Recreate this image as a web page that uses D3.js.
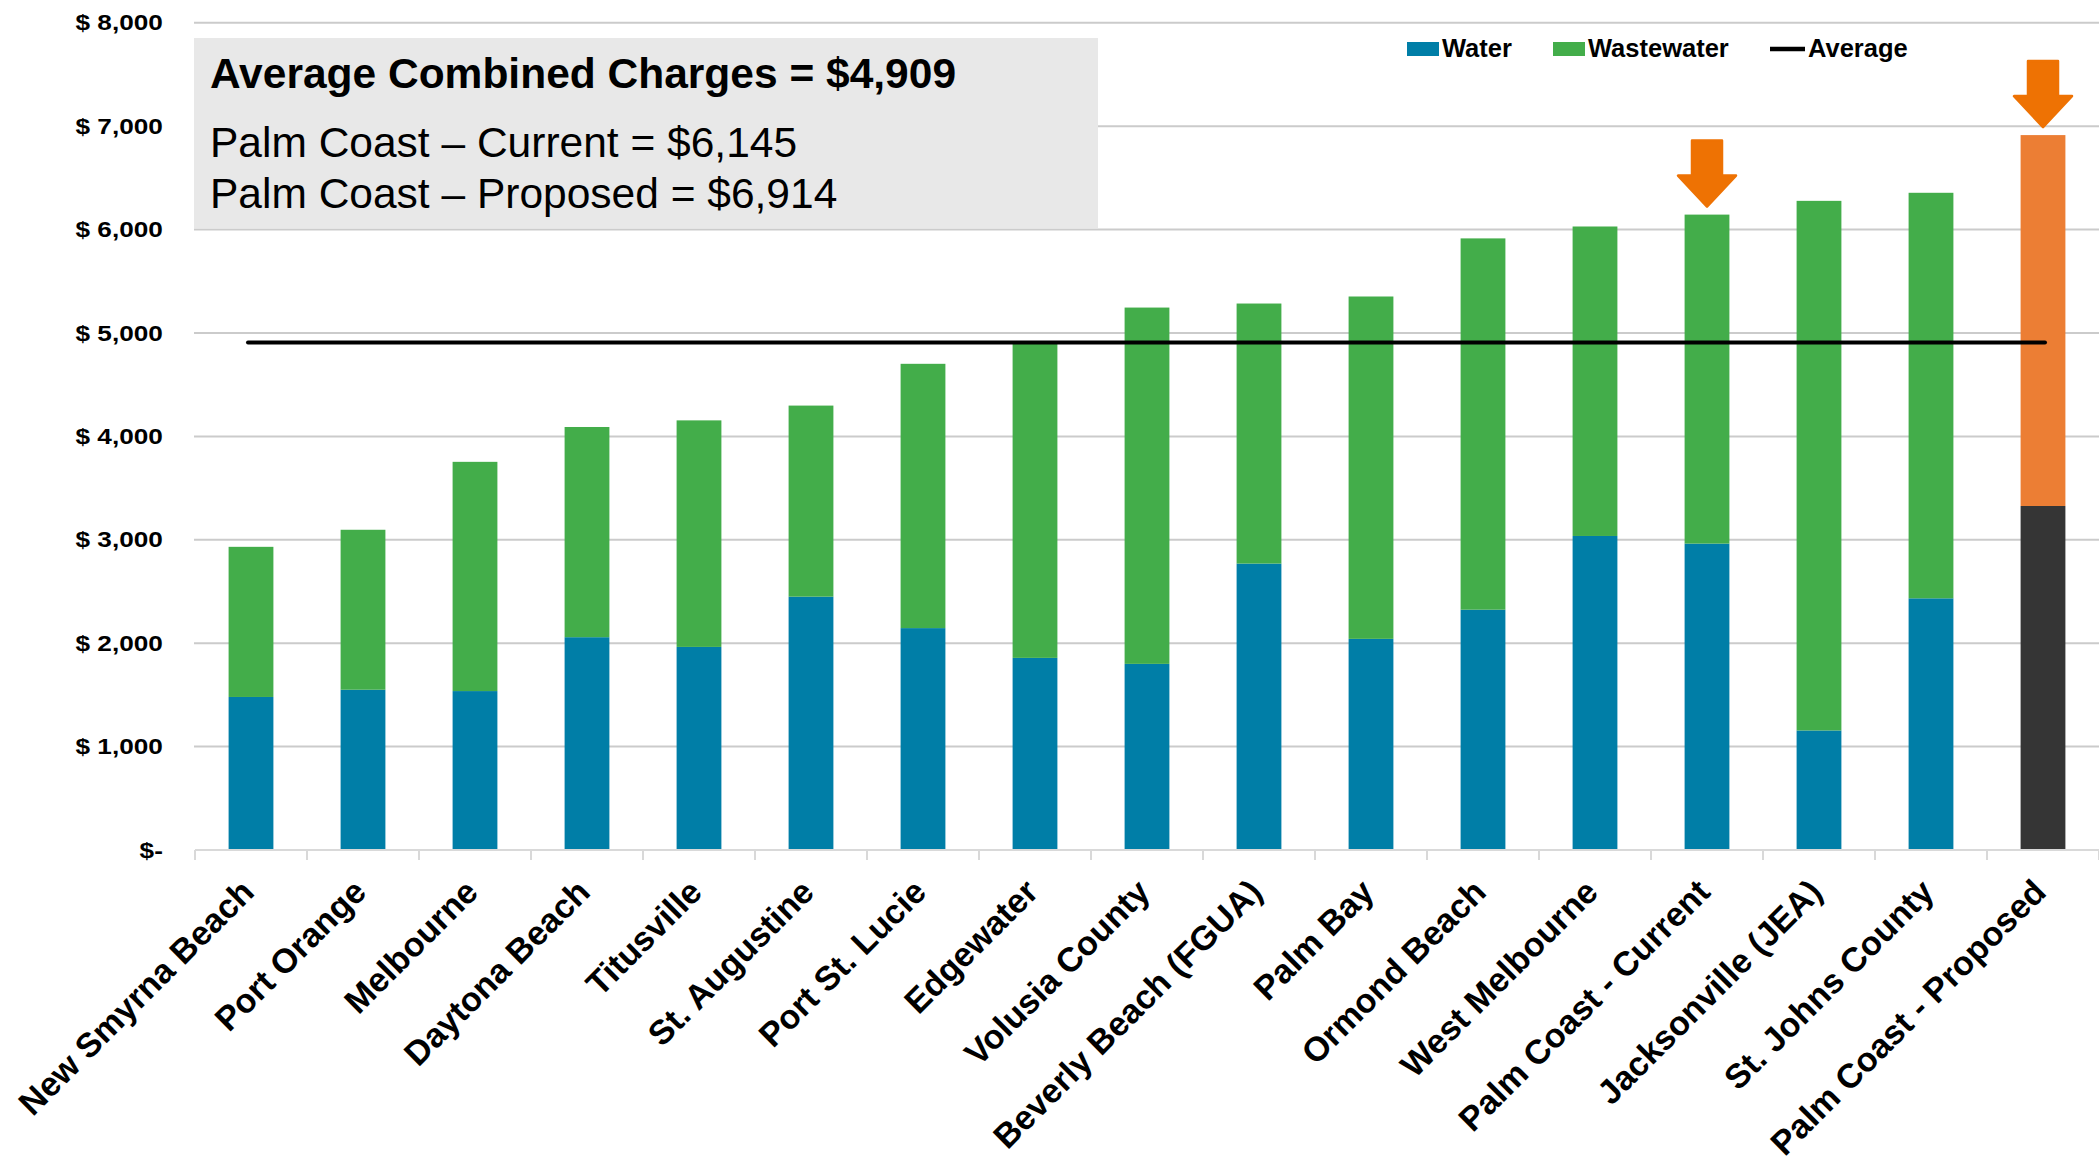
<!DOCTYPE html>
<html>
<head>
<meta charset="utf-8">
<script src="https://cdn.jsdelivr.net/npm/d3@7"></script>
<style>
  html, body { margin: 0; padding: 0; background: #ffffff; }
  svg { display: block; }
  text { font-family: "Liberation Sans", Arial, Helvetica, sans-serif; fill: #000; }
</style>
</head>
<body>
<svg id="chart" width="2099" height="1159"></svg>
<script>
// Combined annual water + wastewater charges by utility
const categories = [
  "New Smyrna Beach", "Port Orange", "Melbourne", "Daytona Beach", "Titusville",
  "St. Augustine", "Port St. Lucie", "Edgewater", "Volusia County", "Beverly Beach (FGUA)",
  "Palm Bay", "Ormond Beach", "West Melbourne", "Palm Coast - Current",
  "Jacksonville (JEA)", "St. Johns County", "Palm Coast - Proposed"
];
const water      = [1480, 1550, 1537, 2058, 1964, 2450, 2146, 1858, 1800, 2770, 2042, 2324, 3037, 2963, 1156, 2434, 3327];
const wastewater = [1452, 1547, 2217, 2033, 2191, 1848, 2556, 3047, 3446, 2515, 3311, 3591, 2993, 3182, 5122, 3922, 3587];
const averageCharge = 4909;
const highlighted = ["Palm Coast - Current", "Palm Coast - Proposed"];
const proposed = "Palm Coast - Proposed";

const yTicks = [0, 1000, 2000, 3000, 4000, 5000, 6000, 7000, 8000];
const yTickLabels = ["$-", "$ 1,000", "$ 2,000", "$ 3,000", "$ 4,000", "$ 5,000", "$ 6,000", "$ 7,000", "$ 8,000"];

const seriesNames = ["Water", "Wastewater", "Average"];
const infoLines = [
  "Average Combined Charges = $4,909",
  "Palm Coast \u2013 Current = $6,145",
  "Palm Coast \u2013 Proposed = $6,914"
];

const colors = {
  water: "#007ea7",
  wastewater: "#43ad4a",
  proposedWater: "#353535",
  proposedWaste: "#ec7e34",
  arrow: "#ee7203",
  grid: "#cbcbcb",
  axis: "#d9d9d9",
  box: "#e8e8e8"
};

const svg = d3.select("#chart");
const W = 2099, H = 1159;
const plotLeft = 195, plotRight = 2099, plotBottom = 850, plotTop = 22.8;

svg.append("rect").attr("width", W).attr("height", H).attr("fill", "#fff");

const x = d3.scaleBand().domain(categories).range([plotLeft, plotRight]).padding(0);
const y = d3.scaleLinear().domain([0, 8000]).range([plotBottom, plotTop]);
const barW = x.bandwidth() * 0.4;

// horizontal gridlines
svg.append("g").selectAll("line")
  .data(yTicks.filter(d => d > 0))
  .join("line")
  .attr("x1", plotLeft - 1).attr("x2", plotRight)
  .attr("y1", d => y(d)).attr("y2", d => y(d))
  .attr("stroke", colors.grid).attr("stroke-width", 2);

// y axis labels
const yAxis = d3.axisLeft(y)
  .tickValues(yTicks)
  .tickSize(0)
  .tickPadding(27)
  .tickFormat((d, i) => yTickLabels[i]);
const yG = svg.append("g").attr("transform", `translate(${plotLeft},0)`).call(yAxis);
yG.select(".domain").remove();
yG.selectAll("text")
  .attr("transform", "scale(1.19,1)")
  .style("font-family", "'Liberation Sans', Arial, sans-serif")
  .style("font-weight", "bold")
  .style("font-size", "22px")
  .attr("fill", "#111");

// stacked bars
const stackData = categories.map((c, i) => ({ cat: c, water: water[i], wastewater: wastewater[i] }));
const stacked = d3.stack().keys(["water", "wastewater"])(stackData);

svg.append("g").selectAll("g")
  .data(stacked)
  .join("g")
  .selectAll("rect")
  .data(s => s.map(d => ({ key: s.key, d })))
  .join("rect")
  .attr("x", p => x(p.d.data.cat) + (x.bandwidth() - barW) / 2)
  .attr("width", barW)
  .attr("y", p => y(p.d[1]))
  .attr("height", p => y(p.d[0]) - y(p.d[1]))
  .attr("fill", p => {
    const isProp = p.d.data.cat === proposed;
    if (p.key === "water") return isProp ? colors.proposedWater : colors.water;
    return isProp ? colors.proposedWaste : colors.wastewater;
  });

// category axis
const xAxis = d3.axisBottom(x).tickSize(0).tickPadding(0);
const xG = svg.append("g").attr("transform", `translate(0,${plotBottom})`).call(xAxis);
xG.select(".domain").remove();
xG.selectAll("text")
  .attr("x", 0).attr("y", 0).attr("dy", 0)
  .attr("text-anchor", "end")
  .attr("transform", "translate(5,44) rotate(-45)")
  .style("font-family", "'Liberation Sans', Arial, sans-serif")
  .style("font-weight", "bold")
  .style("font-size", "34px")
  .attr("fill", "#000");

svg.append("line")
  .attr("x1", plotLeft).attr("x2", plotRight)
  .attr("y1", plotBottom).attr("y2", plotBottom)
  .attr("stroke", colors.axis).attr("stroke-width", 2);
svg.append("g").selectAll("line")
  .data(d3.range(categories.length + 1))
  .join("line")
  .attr("x1", i => plotLeft + i * x.step()).attr("x2", i => plotLeft + i * x.step())
  .attr("y1", plotBottom).attr("y2", plotBottom + 10)
  .attr("stroke", colors.axis).attr("stroke-width", 2);

// average line
const firstC = x(categories[0]) + x.bandwidth() / 2;
const lastC = x(categories[categories.length - 1]) + x.bandwidth() / 2;
svg.append("line")
  .attr("x1", firstC - 3).attr("x2", lastC + 2)
  .attr("y1", y(averageCharge)).attr("y2", y(averageCharge))
  .attr("stroke", "#000").attr("stroke-width", 4).attr("stroke-linecap", "round");

// arrows pointing at the Palm Coast bars
const arrowShaftHalf = 15, arrowHeadHalf = 29, arrowHeadH = 31, arrowShaftH = 35;
svg.append("g").selectAll("path")
  .data(highlighted)
  .join("path")
  .attr("d", c => {
    const i = categories.indexOf(c);
    const cx = x(c) + x.bandwidth() / 2;
    const tipY = y(water[i] + wastewater[i]) - 8;
    const headTop = tipY - arrowHeadH;
    const shaftTop = headTop - arrowShaftH;
    return `M${cx - arrowShaftHalf},${shaftTop} L${cx + arrowShaftHalf},${shaftTop} L${cx + arrowShaftHalf},${headTop} ` +
      `L${cx + arrowHeadHalf},${headTop} L${cx},${tipY} L${cx - arrowHeadHalf},${headTop} L${cx - arrowShaftHalf},${headTop} Z`;
  })
  .attr("fill", colors.arrow)
  .attr("stroke", colors.arrow)
  .attr("stroke-width", 2.5)
  .attr("stroke-linejoin", "round");

// summary box
svg.append("rect")
  .attr("x", 194).attr("y", 38).attr("width", 904).attr("height", 190)
  .attr("fill", colors.box);
const infoBaselines = [88, 157, 207.5];
svg.append("g").selectAll("text")
  .data(infoLines)
  .join("text")
  .attr("x", 210)
  .attr("y", (d, i) => infoBaselines[i])
  .style("font-size", "42.5px")
  .style("font-weight", (d, i) => i === 0 ? "bold" : "normal")
  .attr("fill", "#222")
  .text(d => d);

// legend
const legend = svg.append("g");
const legendX = [1407, 1553, 1770];
legend.append("rect").attr("x", legendX[0]).attr("y", 42).attr("width", 32).attr("height", 14).attr("fill", colors.water);
legend.append("rect").attr("x", legendX[1]).attr("y", 42).attr("width", 32).attr("height", 14).attr("fill", colors.wastewater);
legend.append("line").attr("x1", legendX[2]).attr("x2", legendX[2] + 35).attr("y1", 49).attr("y2", 49)
  .attr("stroke", "#000").attr("stroke-width", 4.5);
legend.selectAll("text")
  .data(seriesNames)
  .join("text")
  .attr("x", (d, i) => legendX[i] + (i === 2 ? 38 : 35))
  .attr("y", 57)
  .style("font-size", "25.5px")
  .style("font-weight", "bold")
  .text(d => d);
</script>
</body>
</html>
